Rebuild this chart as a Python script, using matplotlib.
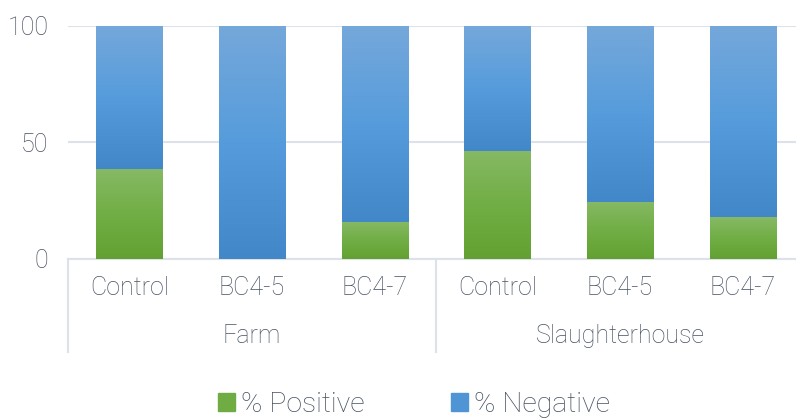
import numpy as np
import matplotlib
matplotlib.use("Agg")
import matplotlib.pyplot as plt
from matplotlib.colors import LinearSegmentedColormap
from matplotlib.patches import Rectangle

groups = ["Farm", "Slaughterhouse"]
treatments = ["Control", "BC4-5", "BC4-7"]
positive = [38.5, 0, 16, 46.5, 24.5, 18]
negative = [100 - p for p in positive]

txt = "#475163"
grid_c = "#dde2ea"
plt.rcParams['font.family'] = ['Roboto', 'DejaVu Sans']
plt.rcParams['font.weight'] = 'light'

green = LinearSegmentedColormap.from_list("g", ["#62a131", "#71ae45", "#86b965"])
blue = LinearSegmentedColormap.from_list("b", ["#4287c8", "#569cdc", "#75a8da"])

fig = plt.figure(figsize=(7.96, 4.19), dpi=100)
ax = fig.add_axes([68 / 796, (419 - 259) / 419, 736 / 796, 233 / 419])

x = np.arange(len(positive))
labels = treatments * len(groups)
grad = np.linspace(0, 1, 256).reshape(-1, 1)

b1 = ax.bar(x, positive, width=0.54, color="none", edgecolor="none")
b2 = ax.bar(x, negative, bottom=positive, width=0.54, color="none", edgecolor="none")

def fill(bars, cmap):
    for p in bars:
        x0, y0 = p.get_x(), p.get_y()
        w, h = p.get_width(), p.get_height()
        if h <= 0:
            continue
        ax.imshow(grad, cmap=cmap, origin="lower", aspect="auto",
                  extent=(x0, x0 + w, y0, y0 + h), zorder=3, interpolation="bilinear")

fill(b1, green)
fill(b2, blue)

ax.set_xlim(-0.5, len(positive) - 0.5)
ax.set_ylim(0, 100)
ax.set_yticks([0, 50, 100])
ax.yaxis.grid(True, color=grid_c, linewidth=1.5, zorder=0)
ax.set_axisbelow(True)
for s in ["top", "right", "left"]:
    ax.spines[s].set_visible(False)
ax.spines["bottom"].set_color(grid_c)
ax.spines["bottom"].set_linewidth(1.5)
ax.tick_params(axis="both", length=0, labelsize=18, colors=txt)
ax.tick_params(axis="y", pad=14)
ax.tick_params(axis="x", pad=12)
ax.set_xticks(x)
ax.set_xticklabels(labels)

# group labels and separators
trans = ax.get_xaxis_transform()
for i, g in enumerate(groups):
    ax.text(i * 3 + 1, -0.33, g, transform=trans, ha="center", va="center",
            fontsize=18, color=txt)
for xs in [-0.5, 2.5]:
    ax.plot([xs, xs], [0, -0.4], transform=trans, color=grid_c, lw=1.5, clip_on=False)

# legend
handles = [Rectangle((0, 0), 1, 1, color="#6fac44"), Rectangle((0, 0), 1, 1, color="#4f95d6")]
fig.legend(handles, ["% Positive", "% Negative"], loc="center", bbox_to_anchor=(0.52, 0.035),
           ncol=2, frameon=False, fontsize=20.5, handlelength=0.6, handleheight=0.6,
           handletextpad=0.2, columnspacing=3.05, labelcolor=txt)

fig.savefig("out.png", dpi=100)
